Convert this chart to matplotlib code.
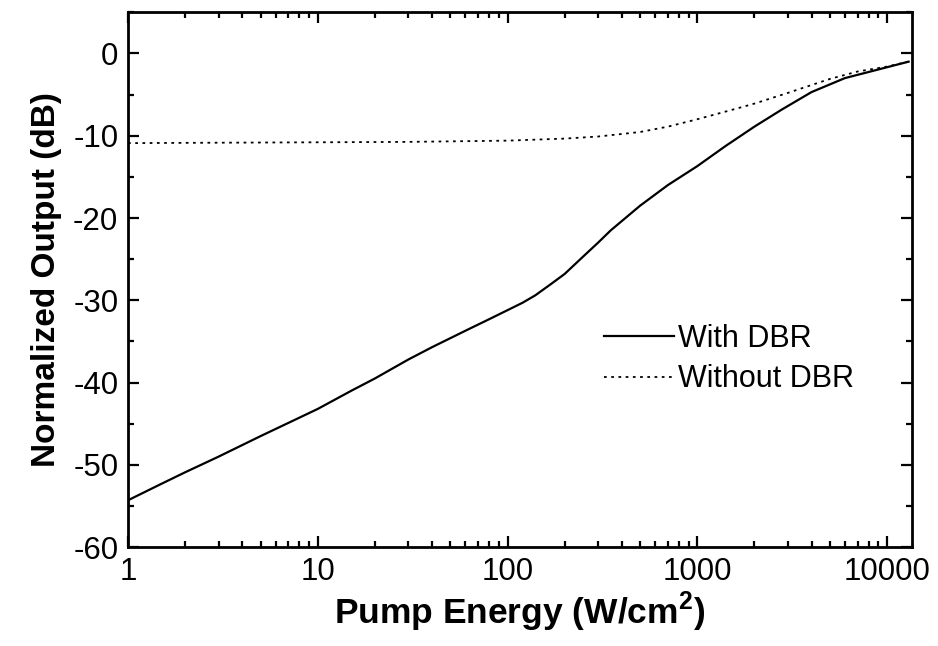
import matplotlib
matplotlib.use("Agg")
import matplotlib.pyplot as plt
from matplotlib.ticker import FixedLocator, LogLocator, NullFormatter, MultipleLocator

plt.rcParams['font.family'] = ['Liberation Sans', 'DejaVu Sans']
plt.rcParams['axes.unicode_minus'] = False
plt.rcParams['mathtext.fontset'] = 'custom'
plt.rcParams['mathtext.rm'] = 'Liberation Sans:bold'
plt.rcParams['mathtext.bf'] = 'Liberation Sans:bold'

# Pump energy (W/cm^2) and normalized output (dB)
energy_dbr = [1, 1.5, 2, 3, 5, 7, 10, 15, 20, 30, 40, 60, 80, 100, 120, 140,
              170, 200, 250, 300, 350, 500, 700, 1000, 1400, 2000, 2800,
              4000, 6000, 8500, 13000]
out_dbr = [-54.3, -52.3, -50.9, -49.0, -46.5, -44.9, -43.2, -41.0, -39.5,
           -37.2, -35.7, -33.7, -32.3, -31.2, -30.3, -29.4, -28.0, -26.8,
           -24.7, -23.0, -21.5, -18.5, -16.0, -13.7, -11.3, -8.9, -6.8,
           -4.7, -3.0, -2.1, -1.0]

energy_nodbr = [1, 3, 10, 30, 100, 200, 300, 500, 700, 1000, 1500, 2000,
                3000, 5000, 7000, 10000, 13000]
out_nodbr = [-10.9, -10.85, -10.8, -10.75, -10.6, -10.35, -10.1, -9.55,
             -8.9, -8.0, -6.9, -6.1, -4.8, -3.1, -2.2, -1.6, -1.0]

x_ticks = [1, 10, 100, 1000, 10000]
x_labels = ['1', '10', '100', '1000', '10000']
y_ticks = [0, -10, -20, -30, -40, -50, -60]

fig = plt.figure(figsize=(9.38, 6.46), dpi=100)
ax = fig.add_axes([0.1365, 0.153, 0.8355, 0.828])

ax.plot(energy_dbr, out_dbr, color='black', lw=1.6, label='With DBR')
ax.plot(energy_nodbr, out_nodbr, color='black', lw=1.3, ls=(0, (1.5, 2.5)),
        label='Without DBR')

ax.set_xscale('log')
ax.set_xlim(1, 13500)
ax.set_ylim(-60, 5)
ax.xaxis.set_major_locator(FixedLocator(x_ticks))
ax.set_xticklabels(x_labels)
ax.xaxis.set_minor_locator(LogLocator(base=10, subs=range(2, 10), numticks=20))
ax.xaxis.set_minor_formatter(NullFormatter())
ax.set_yticks(y_ticks)
ax.yaxis.set_minor_locator(MultipleLocator(5))

for s in ax.spines.values():
    s.set_linewidth(2)
ax.tick_params(which='both', direction='in', top=True, right=True,
               width=1.6, labelsize=22.5, pad=7)
ax.tick_params(which='major', length=8)
ax.tick_params(which='minor', length=4)

ax.set_xlabel(r'Pump Energy (W/cm$^\mathbf{2}$)', fontsize=25.5,
              fontweight='bold', labelpad=2)
ax.set_ylabel('Normalized Output (dB)', fontsize=24, fontweight='bold',
              labelpad=8)

ax.legend(loc='center left', bbox_to_anchor=(0.572, 0.352), frameon=False,
          fontsize=22, handlelength=2.3, handletextpad=0.12,
          labelspacing=0.35)

fig.savefig('out.png', dpi=100)
